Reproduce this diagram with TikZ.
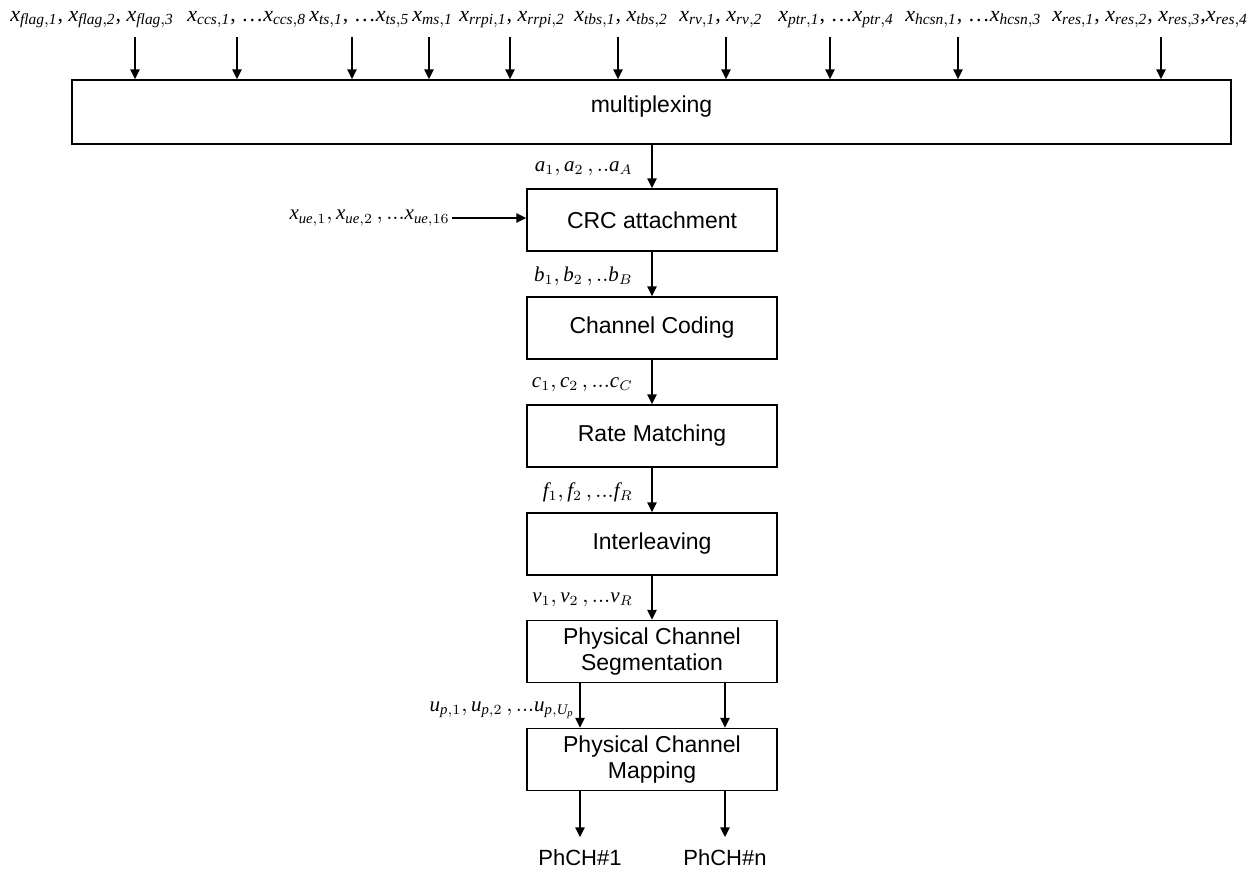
\documentclass[tikz,border=0pt]{standalone}
\usepackage{fontspec}
\setmainfont{Liberation Serif}
\setsansfont{Liberation Sans}
\usetikzlibrary{arrows.meta}

% italic symbol with italic subscript
\newcommand{\xin}[1]{$\mathit{x}_{\mathit{#1}}$}

\begin{document}
\begin{tikzpicture}[x=0.5pt, y=-0.5pt,
  blk/.style={draw, line width=0.6pt, minimum width=125pt, minimum height=31pt,
    font=\sffamily\fontsize{11.5}{13}\selectfont, align=center},
  arr/.style={-{Triangle[length=5pt,width=4.5pt]}, line width=1.3pt},
  sym/.style={font=\fontsize{10.5}{12}\selectfont, inner sep=1pt},
  top/.style={font=\fontsize{11}{13}\selectfont, inner sep=1pt, anchor=base west},
  outp/.style={font=\sffamily\fontsize{11}{13}\selectfont, outer sep=3pt}]
  \useasboundingbox (0,0) rectangle (1253,869);

  % input fields of the multiplexer
  \node[top] (lflag) at (8,21) {\xin{flag,1}, \xin{flag,2}, \xin{flag,3}};
  \node[top] (lccs) at (185,21) {\xin{ccs,1}, \ldots\xin{ccs,8}};
  \node[top] (lts) at (307,21) {\xin{ts,1}, \ldots\xin{ts,5}};
  \node[top] (lms) at (410,21) {\xin{ms,1}};
  \node[top] (lrrpi) at (457,21) {\xin{rrpi,1}, \xin{rrpi,2}};
  \node[top] (ltbs) at (572,21) {\xin{tbs,1}, \xin{tbs,2}};
  \node[top] (lrv) at (677,21) {\xin{rv,1}, \xin{rv,2}};
  \node[top] (lptr) at (776,21) {\xin{ptr,1}, \ldots\xin{ptr,4}};
  \node[top] (lhcsn) at (903,21) {\xin{hcsn,1}, \ldots\xin{hcsn,3}};
  \node[top] (lres) at (1050,21) {\xin{res,1}, \xin{res,2}, \xin{res,3},\xin{res,4}};

  \node[blk, minimum width=579.5pt, minimum height=32pt, text depth=8pt] (mux) at (651.5,112) {multiplexing};

  \foreach \x [count=\i] in {135,237,352,429,510,618,726,830,958,1161}{
    \coordinate (in\i) at (\x,37);
    \draw[arr] (in\i) -- (in\i |- mux.north);
  }

  % processing chain
  \node[blk] (crc) at (652,220) {CRC attachment};
  \node[blk] (cod) at (652,328) {Channel Coding};
  \node[blk] (rm) at (652,436) {Rate Matching};
  \node[blk] (il) at (652,544) {Interleaving};
  \node[blk] (seg) at (652,651.5) {Physical Channel\\Segmentation};
  \node[blk] (map) at (652,759.5) {Physical Channel\\Mapping};

  \draw[arr] (mux.south -| crc) -- node[sym, left=8pt, pos=0.55]{$\mathit{a}_1 , \mathit{a}_2 \,,..\mathit{a}_A$} (crc);
  \draw[arr] (crc) -- node[sym, left=8pt, pos=0.55]{$\mathit{b}_1 , \mathit{b}_2 \,,..\mathit{b}_B$} (cod);
  \draw[arr] (cod) -- node[sym, left=8pt, pos=0.55]{$\mathit{c}_1 , \mathit{c}_2 \,,...\mathit{c}_C$} (rm);
  \draw[arr] (rm) -- node[sym, left=8pt, pos=0.55]{$\mathit{f}_1 , \mathit{f}_2 \,,...\mathit{f}_R$} (il);
  \draw[arr] (il) -- node[sym, left=8pt, pos=0.55]{$\mathit{v}_1 , \mathit{v}_2 \,,...\mathit{v}_R$} (seg);

  % extra input
  \node[sym, anchor=east] (ue) at (452,218) {$\mathit{x}_{\mathit{ue},1} , \mathit{x}_{\mathit{ue},2} \,,...\mathit{x}_{\mathit{ue},16}$};
  \draw[arr] (ue.east) -- (ue.east -| crc.west);

  % physical channels
  \node[outp] (ph1) at (580,858) {PhCH\#1};
  \node[outp] (phn) at (725,858) {PhCH\#n};
  \draw[arr] (seg.south -| ph1) -- node[sym, left=1pt, pos=0.6]{$\mathit{u}_{\mathit{p},1} , \mathit{u}_{\mathit{p},2} \,,...\mathit{u}_{\mathit{p},\mathit{U}_{\mathit{p}}}$} (map.north -| ph1);
  \draw[arr] (seg.south -| phn) -- (map.north -| phn);
  \draw[arr] (map.south -| ph1) -- (ph1);
  \draw[arr] (map.south -| phn) -- (phn);
\end{tikzpicture}
\end{document}
